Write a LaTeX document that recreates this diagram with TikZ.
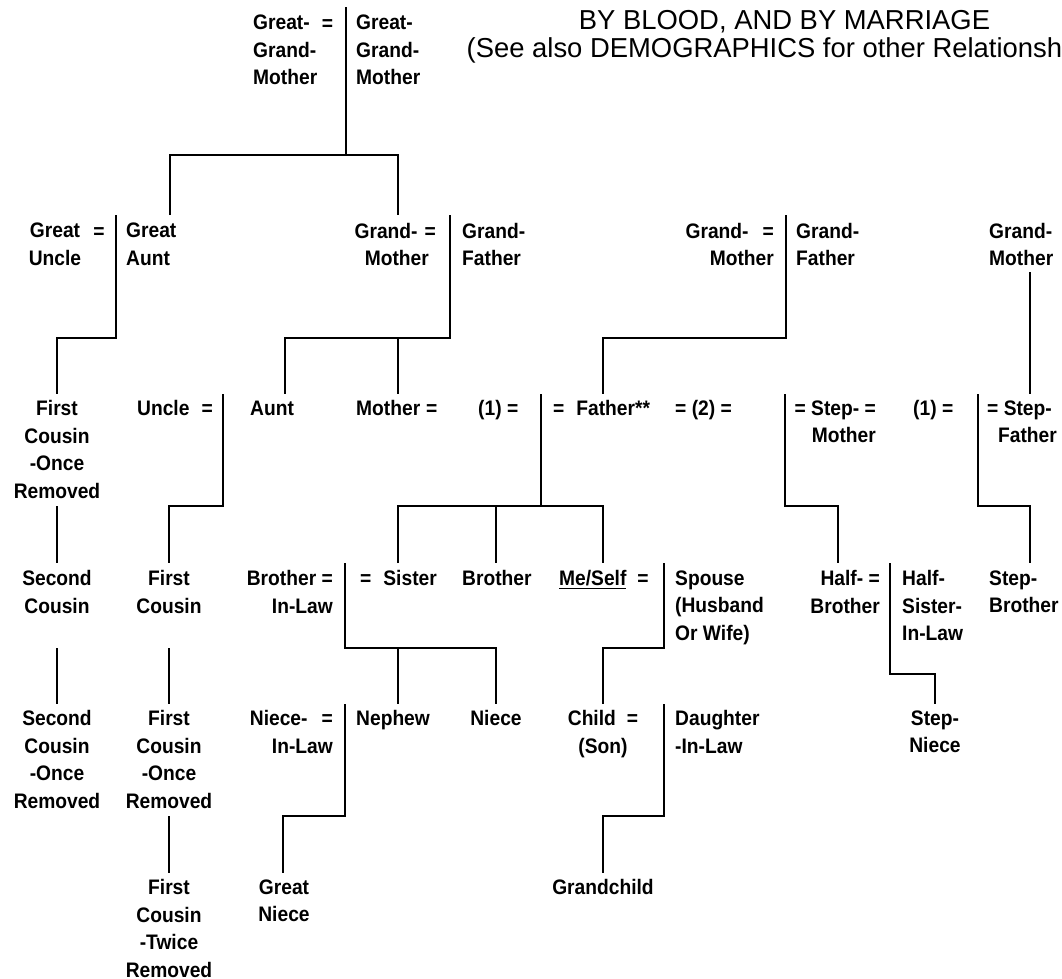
\documentclass[tikz,border=0pt]{standalone}
\usepackage{fontspec}
\newfontfamily\labfont{Liberation Sans}[FakeStretch=0.915]
\newfontfamily\titlefont{Liberation Sans}
\begin{document}
\begin{tikzpicture}[x=1pt,y=-1pt,
  lbl/.style={font=\labfont\bfseries\fontsize{21}{27.5}\selectfont, inner sep=0pt, anchor=north, align=center},
  lblL/.style={lbl, anchor=north west, align=left},
  lblR/.style={lbl, anchor=north east, align=right},
  eqn/.style={lbl, anchor=base},
  ttl/.style={font=\titlefont\fontsize{27.4}{28}\selectfont, inner sep=0pt, anchor=base},
  tline/.style={line width=2.2pt, line join=miter},
  thinl/.style={line width=1.6pt, line join=miter}
]
\useasboundingbox (0,0) rectangle (1062,978);
\clip (0,0) rectangle (1062,978);

% ---------- texts ----------
\node[ttl] (title1) at (784.5,29.7) {BY BLOOD, AND BY MARRIAGE};
\node[ttl] (title2) at (786.5,57.2) {(See also DEMOGRAPHICS for other Relationships)};

% row 0
\node[lblL] (ggm1) at (253,15) {Great-\\Grand-\\Mother};
\node[eqn] (eq1) at (327.5,30) {=};
\node[lblL] (ggm2) at (356,15) {Great-\\Grand-\\Mother};

% row 1
\node[lbl] (gu) at (55,223) {Great\\Uncle};
\node[eqn] (eq2) at (99,238) {=};
\node[lblL] (ga) at (126,223) {Great\\Aunt};
\node[lblR] (gm1) at (436,223) {Grand-\hspace{7pt}=\\Mother\kern7pt};
\node[lblL] (gf1) at (462,223) {Grand-\\Father};
\node[lblR] (gm2) at (774,223) {Grand-\hspace{14pt}=\\Mother};
\node[lblL] (gf2) at (796,223) {Grand-\\Father};
\node[lblL] (sgm) at (989,223) {Grand-\\Mother};

% row 2
\node[lbl] (fcor) at (57,400.5) {First\\Cousin\\-Once\\Removed};
\node[lblL] (uncle) at (137,400.5) {Uncle\hspace{12pt}=};
\node[lblL] (aunt) at (250,400.5) {Aunt};
\node[lblL] (mother) at (356,400.5) {Mother\hspace{6pt}=};
\node[lblL] (one1) at (478,400.5) {(1) =};
\node[lblL] (father) at (553,400.5) {=\hspace{12pt}Father**};
\node[lblL] (two) at (675,400.5) {= (2) =};
\node[lblR] (stepm) at (876,400.5) {= Step- =\\Mother};
\node[lblL] (one2) at (913,400.5) {(1) =};
\node[lblR] (stepf) at (1057,400.5) {= Step-\kern5pt\\Father};

% row 3
\node[lbl] (sc) at (57,570.5) {Second\\Cousin};
\node[lbl] (fc) at (169,570.5) {First\\Cousin};
\node[lblR] (bil) at (333,570.5) {Brother =\\In-Law};
\node[lblL] (sister) at (360,570.5) {=\hspace{12pt}Sister};
\node[lblL] (brother) at (462,570.5) {Brother};
\node[lblL] (me) at (559,570.5) {\underline{Me/Self}\hspace{11pt}=};
\node[lblL] (spouse) at (675,570.5) {Spouse\\(Husband\\Or Wife)};
\node[lblR] (halfb) at (880,570.5) {Half- =\\Brother};
\node[lblL] (halfs) at (902,570.5) {Half-\\Sister-\\In-Law};
\node[lblL] (stepb) at (989,570.5) {Step-\\Brother};

% row 4
\node[lbl] (scor) at (57,710.5) {Second\\Cousin\\-Once\\Removed};
\node[lbl] (fcor2) at (169,710.5) {First\\Cousin\\-Once\\Removed};
\node[lblR] (nil) at (333,710.5) {Niece-\hspace{14pt}=\\In-Law};
\node[lblL] (nephew) at (356,710.5) {Nephew};
\node[lbl] (niece) at (496,710.5) {Niece};
\node[lbl] (child) at (603,710.5) {Child\hspace{11pt}=\\(Son)};
\node[lblL] (dil) at (675,710.5) {Daughter\\-In-Law};
\node[lbl] (stepn) at (935,710.5) {Step-\\Niece};

% row 5
\node[lbl] (fctr) at (169,879.5) {First\\Cousin\\-Twice\\Removed};
\node[lbl] (gniece) at (284,879.5) {Great\\Niece};
\node[lbl] (gchild) at (603,879.5) {Grandchild};

% ---------- junction coordinates ----------
\coordinate (ggbarT) at (346,7);
\coordinate (ggbarB) at (346,155);
\coordinate (gsibL) at (170,155);
\coordinate (gsibR) at (398,155);
\coordinate (guaT) at (170,215);
\coordinate (gmT) at (398,215);

\coordinate (gubarT) at (116,215);
\coordinate (gubarB) at (116,338);
\coordinate (fcorT) at (57,394);

\coordinate (mgbarT) at (450,215);
\coordinate (mgbarB) at (450,338);
\coordinate (auntT) at (285,394);
\coordinate (mgJ) at (398,338);
\coordinate (motherT) at (398,394);

\coordinate (pgbarT) at (786,215);
\coordinate (pgbarB) at (786,338);
\coordinate (fatherT) at (603,394);

\coordinate (sgmB) at (1030,272);
\coordinate (sfT) at (1030,394);

\coordinate (ubarT) at (223,394);
\coordinate (ubarB) at (223,506);
\coordinate (fcT) at (169,563);

\coordinate (pbarT) at (541,394);
\coordinate (pbarB) at (541,506);
\coordinate (sibL) at (398,506);
\coordinate (sibM) at (496,506);
\coordinate (sibR) at (603,506);
\coordinate (sisT) at (398,563);
\coordinate (broT) at (496,563);
\coordinate (meT) at (603,563);

\coordinate (smbarT) at (785,394);
\coordinate (smbarB) at (785,506);
\coordinate (hbT) at (838,563);

\coordinate (sfbarT) at (978,394);
\coordinate (sfbarB) at (978,506);
\coordinate (sbT) at (1030,563);

\coordinate (fcorB) at (57,506);
\coordinate (scT) at (57,563);
\coordinate (scB) at (57,648);
\coordinate (scorT) at (57,704);
\coordinate (fcB) at (169,648);
\coordinate (fcor2T) at (169,704);

\coordinate (sbarT) at (345,563);
\coordinate (sbarB) at (345,648);
\coordinate (nepJ) at (398,648);
\coordinate (nepT) at (398,704);
\coordinate (nieceT) at (496,704);

\coordinate (mbarT) at (664,563);
\coordinate (mbarB) at (664,648);
\coordinate (childT) at (603,704);

\coordinate (hbarT) at (890,563);
\coordinate (hbarB) at (890,674);
\coordinate (snT) at (935,704);

\coordinate (fcor2B) at (169,816);
\coordinate (fctrT) at (169,873);

\coordinate (nbarT) at (345,704);
\coordinate (nbarB) at (345,816);
\coordinate (gnT) at (283,873);

\coordinate (cbarT) at (664,704);
\coordinate (cbarB) at (664,816);
\coordinate (gcT) at (603,873);

% ---------- connectors ----------
\draw[thinl] (ggbarT) -- (ggbarB);
\draw[tline] (guaT) -- (gsibL) -- (gsibR) -- (gmT);

\draw[tline] (gubarT) -- (gubarB) -| (fcorT);
\draw[tline] (mgbarT) -- (mgbarB) -| (auntT);
\draw[tline] (mgJ) -- (motherT);
\draw[tline] (pgbarT) -- (pgbarB) -| (fatherT);
\draw[thinl] (sgmB) -- (sfT);

\draw[tline] (ubarT) -- (ubarB) -| (fcT);
\draw[tline] (pbarT) -- (pbarB);
\draw[tline] (sisT) -- (sibL) -- (sibR) -- (meT);
\draw[tline] (sibM) -- (broT);
\draw[thinl] (smbarT) -- (smbarB) -| (hbT);
\draw[tline] (sfbarT) -- (sfbarB) -| (sbT);

\draw[tline] (fcorB) -- (scT);
\draw[tline] (scB) -- (scorT);
\draw[tline] (fcB) -- (fcor2T);

\draw[tline] (sbarT) -- (sbarB) -| (nieceT);
\draw[tline] (nepJ) -- (nepT);
\draw[thinl] (mbarT) -- (mbarB) -| (childT);
\draw[thinl] (hbarT) -- (hbarB) -| (snT);

\draw[tline] (fcor2B) -- (fctrT);
\draw[tline] (nbarT) -- (nbarB) -| (gnT);
\draw[tline] (cbarT) -- (cbarB) -| (gcT);
\end{tikzpicture}
\end{document}
